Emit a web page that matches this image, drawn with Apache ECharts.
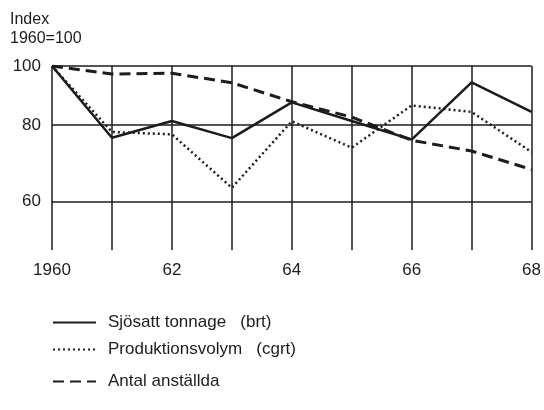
<!DOCTYPE html>
<html>
<head>
<meta charset="utf-8">
<script src="https://cdn.jsdelivr.net/npm/echarts@6/dist/echarts.min.js"></script>
<style>html,body{margin:0;padding:0;background:#fff;}#c{width:544px;height:410px;}</style>
</head>
<body>
<div id="c"></div>
<script>
var years = [1960, 1961, 1962, 1963, 1964, 1965, 1966, 1967, 1968];
var sjosatt = [100, 76.3, 81.3, 76.2, 87.2, 81.3, 75.8, 94.0, 84.1];
var produktion = [100, 78.0, 77.3, 63.2, 81.2, 73.5, 86.2, 84.1, 72.3];
var anstallda = [100, 97.0, 97.3, 93.9, 87.4, 82.5, 75.6, 72.6, 67.7];
var yTicks = [60, 80, 100];
var seriesNames = ['Sjösatt tonnage   (brt)', 'Produktionsvolym   (cgrt)', 'Antal anställda'];

function pairs(vals) { return years.map(function (y, i) { return [y, vals[i]]; }); }

var ink = '#1c1c1c';
var font = 'Liberation Sans, Arial, sans-serif';
var chart = echarts.init(document.getElementById('c'));

function legendAt(name, top) {
  return {
    data: [name], left: 47, top: top, orient: 'vertical',
    itemWidth: 43, itemHeight: 10, itemGap: 0,
    itemStyle: { opacity: 0 },
    textStyle: { color: ink, fontSize: 17, fontFamily: font, padding: [0, 0, 0, 7] },
    selectedMode: false
  };
}

chart.setOption({
  animation: false,
  backgroundColor: '#fff',
  title: {
    text: 'Index\n1960=100', left: 5, top: 5,
    textStyle: { color: ink, fontSize: 16, fontWeight: 'normal', fontFamily: font, lineHeight: 19 }
  },
  legend: [legendAt(seriesNames[0], 309), legendAt(seriesNames[1], 336), legendAt(seriesNames[2], 368)],
  grid: { left: 52, right: 12, top: 66, bottom: 160 },
  xAxis: {
    type: 'value', min: 1960, max: 1968, interval: 1,
    axisLine: { show: false }, axisTick: { show: false },
    axisLabel: {
      color: ink, fontSize: 17, fontFamily: font, margin: 12,
      formatter: function (v) {
        if (v % 2 !== 0) return '';
        return v === 1960 ? '1960' : String(v).slice(2);
      }
    },
    splitLine: { show: true, lineStyle: { color: ink, width: 1.5 } }
  },
  yAxis: {
    type: 'log', logBase: 10, min: 50, max: 100,
    axisLine: { show: false },
    axisTick: { show: false, customValues: yTicks },
    axisLabel: { color: ink, fontSize: 17, fontFamily: font, margin: 11, customValues: yTicks },
    splitLine: { show: true, lineStyle: { color: ink, width: 1.5 } }
  },
  series: [
    { name: seriesNames[0], type: 'line', data: pairs(sjosatt), symbol: 'none', color: ink,
      lineStyle: { color: ink, width: 2.5, type: 'solid' } },
    { name: seriesNames[1], type: 'line', data: pairs(produktion), symbol: 'none', color: ink,
      lineStyle: { color: ink, width: 2.5, type: [2, 3] } },
    { name: seriesNames[2], type: 'line', data: pairs(anstallda), symbol: 'none', color: ink,
      lineStyle: { color: ink, width: 3, type: [11, 6] } }
  ]
});
</script>
</body>
</html>
